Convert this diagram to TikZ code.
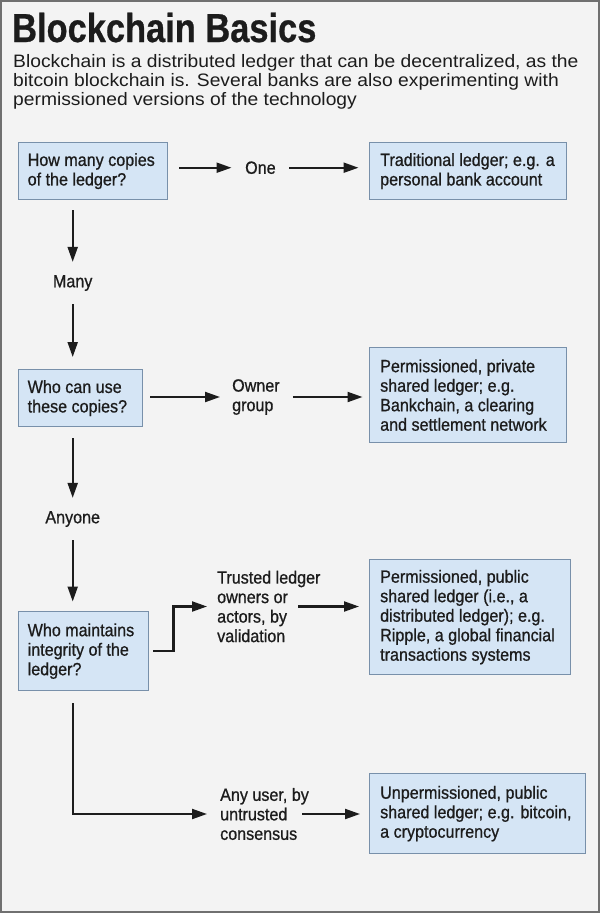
\documentclass[tikz,border=0pt]{standalone}
\usepackage{fontspec}
\setmainfont{Liberation Sans}
\newfontfamily\subfont[FakeStretch=1.07]{Liberation Sans}
\newfontfamily\boxfont[FakeStretch=0.91,FakeBold=0.8]{Liberation Sans}
\newfontfamily\titlefont[FakeStretch=0.85,FakeBold=0.6]{Liberation Sans}
\usetikzlibrary{arrows.meta,calc}
\definecolor{bg}{HTML}{F3F3F3}
\definecolor{framecol}{HTML}{707070}
\definecolor{boxfill}{HTML}{D5E5F5}
\definecolor{boxline}{HTML}{7890AA}
\definecolor{ink}{HTML}{1C1C1C}
\begin{document}
\begin{tikzpicture}[x=1pt,y=-1pt,
  box/.style={draw=boxline, fill=boxfill, line width=1.2pt, rectangle, inner sep=0pt, anchor=north west},
  btext/.style={font=\boxfont\fontsize{17.7}{19.5}\selectfont, text=ink, align=left, inner sep=0pt, anchor=west, xshift=10pt},
  lbl/.style={font=\boxfont\fontsize{17.7}{19.5}\selectfont, text=ink, align=left, inner sep=0pt},
  arr/.style={draw=ink, line width=2.1pt, -{Triangle[length=15pt,width=10pt]}},
]
\useasboundingbox (0,0) rectangle (600,913);
\fill[bg] (0,0) rectangle (600,913);
\draw[framecol, line width=1.6pt] (0.8,0.8) rectangle (599.2,912.2);

% title and subtitle
\node[anchor=base west, inner sep=0pt, text=ink, font=\titlefont\bfseries\fontsize{40.5}{40}\selectfont] (title) at (12,42) {Blockchain Basics};
\node[anchor=north west, inner sep=0pt, text=ink, align=left, font=\subfont\fontsize{18}{19}\selectfont] (sub) at (13,54)
  {Blockchain is a distributed ledger that can be decentralized, as the\\
   bitcoin blockchain is. Several banks are also experimenting with\\
   permissioned versions of the technology};

% boxes
\node[box, minimum width=149pt, minimum height=57pt] (q1) at (18,142) {};
\node[btext, xshift=-0.5pt] (q1t) at (q1.west) {How many copies\\of the ledger?};
\node[box, minimum width=197pt, minimum height=57pt] (a1) at (369,142) {};
\node[btext, xshift=1pt] (a1t) at (a1.west) {Traditional ledger; e.g. a\\personal bank account};

\node[box, minimum width=124pt, minimum height=57pt] (q2) at (18,369) {};
\node[btext, xshift=-0.5pt] (q2t) at (q2.west) {Who can use\\these copies?};
\node[box, minimum width=197pt, minimum height=95pt] (a2) at (369,347) {};
\node[btext, xshift=1pt] (a2t) at (a2.west) {Permissioned, private\\shared ledger; e.g.\\Bankchain, a clearing\\and settlement network};

\node[box, minimum width=130pt, minimum height=79pt] (q3) at (18,611) {};
\node[btext, xshift=-0.5pt] (q3t) at (q3.west) {Who maintains\\integrity of the\\ledger?};
\node[box, minimum width=201pt, minimum height=115pt] (a3) at (369,559) {};
\node[btext, xshift=1pt] (a3t) at (a3.west) {Permissioned, public\\shared ledger (i.e., a\\distributed ledger); e.g.\\Ripple, a global financial\\transactions systems};

\node[box, minimum width=216pt, minimum height=80pt] (a4) at (369,773) {};
\node[btext, xshift=1pt] (a4t) at (a4.west) {Unpermissioned, public\\shared ledger; e.g. bitcoin,\\a cryptocurrency};

% labels
\node[lbl, anchor=west] (one) at (245,167.7) {One};
\node[lbl] (many) at (72.7,283) {Many};
\node[lbl, anchor=west] (owner) at (232,397) {Owner\\group};
\node[lbl] (anyone) at (72.7,519) {Anyone};
\node[lbl, anchor=west] (trusted) at (217,606.5) {Trusted ledger\\owners or\\actors, by\\validation};
\node[lbl, anchor=west] (anyuser) at (220,814) {Any user, by\\untrusted\\consensus};

\coordinate (elbow) at (173.5,0);

% connectors
\draw[arr, shorten <=11pt, shorten >=13.5pt] (q1.east|-one.west) -- (one.west);
\draw[arr, shorten <=13.4pt, shorten >=10.5pt] (one.east) -- (a1.west|-one.east);
\draw[arr, shorten <=10pt, shorten >=13pt] (many.north|-q1.south) -- (many.north);
\draw[arr, shorten <=13pt, shorten >=12pt] (many.south) -- (many.south|-q2.north);

\draw[arr, shorten <=7pt, shorten >=12pt] (q2.east|-owner.west) -- (owner.west);
\draw[arr, shorten <=13pt, shorten >=6.5pt] (owner.east) -- (a2.west|-owner.east);
\draw[arr, shorten <=11pt, shorten >=13pt] (anyone.north|-q2.south) -- (anyone.north);
\draw[arr, shorten <=13pt, shorten >=9.5pt] (anyone.south) -- (anyone.south|-q3.north);

\draw[arr, shorten <=4pt, shorten >=10pt] (q3.east) -| (elbow|-trusted.west) -- (trusted.west);
\draw[arr, shorten >=10pt] ($(trusted.west)+(81,0)$) -- (a3.west|-trusted.west);
\draw[arr, shorten <=12pt, shorten >=13pt] (anyone.south|-q3.south) |- (anyuser.west);
\draw[arr, shorten >=9pt] ($(anyuser.west)+(82,0)$) -- (a4.west|-anyuser.west);
\end{tikzpicture}
\end{document}
